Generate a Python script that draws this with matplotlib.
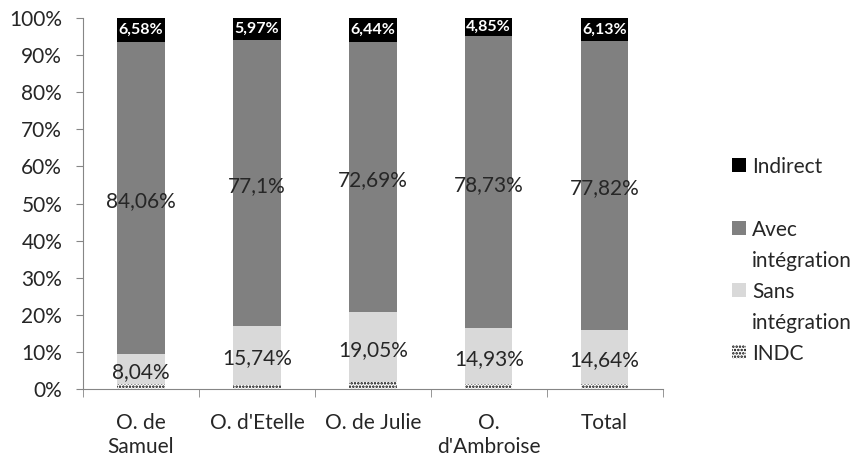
import numpy as np
import matplotlib
matplotlib.use('Agg')
import matplotlib.pyplot as plt
from matplotlib.patches import Rectangle
from matplotlib.ticker import FixedLocator, PercentFormatter

plt.rcParams['font.family'] = ['Lato', 'DejaVu Sans']
plt.rcParams['hatch.linewidth'] = 1.2

# données
categories = ['O. de\nSamuel', "O. d'Etelle", 'O. de Julie', "O.\nd'Ambroise", 'Total']
indc = np.array([1.32, 1.19, 1.82, 1.49, 1.41])
sans = np.array([8.04, 15.74, 19.05, 14.93, 14.64])
avec = np.array([84.06, 77.10, 72.69, 78.73, 77.82])
indirect = np.array([6.58, 5.97, 6.44, 4.85, 6.13])
sans_lbl = ['8,04%', '15,74%', '19,05%', '14,93%', '14,64%']
avec_lbl = ['84,06%', '77,1%', '72,69%', '78,73%', '77,82%']
ind_lbl = ['6,58%', '5,97%', '6,44%', '4,85%', '6,13%']

x = np.arange(len(categories))
w = 0.41
txt = '#262626'
axcol = '#868686'
W, H = 865, 461

fig = plt.figure(figsize=(8.65, 4.61), dpi=100)
ax = fig.add_axes([0.096, 0.156, 0.67, 0.805])

ax.bar(x, indc, w, color='white', edgecolor='black', linewidth=0, hatch='.....')
ax.bar(x, sans, w, bottom=indc, color='#d9d9d9')
ax.bar(x, avec, w, bottom=indc + sans, color='#808080')
ax.bar(x, indirect, w, bottom=indc + sans + avec, color='black')

for i in x:
    ax.text(x[i], indc[i] + sans[i] / 2 - 0.8, sans_lbl[i], ha='center', va='center', fontsize=15, color=txt)
    ax.text(x[i], indc[i] + sans[i] + avec[i] / 2 - 0.8, avec_lbl[i], ha='center', va='center', fontsize=15, color=txt)
    ax.text(x[i], indc[i] + sans[i] + avec[i] + indirect[i] / 2, ind_lbl[i], ha='center', va='center',
            fontsize=11.5, color='white', fontweight='bold')

ax.set_xlim(-0.5, len(categories) - 0.5)
ax.set_ylim(0, 100)
ax.set_yticks(np.arange(0, 101, 10))
ax.yaxis.set_major_formatter(PercentFormatter(decimals=0))
ax.set_xticks(x)
ax.set_xticklabels(categories, linespacing=1.3)
ax.xaxis.set_minor_locator(FixedLocator(np.arange(-0.5, len(categories), 1)))
ax.tick_params(axis='x', which='major', length=0, labelsize=15, labelcolor=txt, pad=17)
ax.tick_params(axis='x', which='minor', length=6, color=axcol, direction='out')
ax.tick_params(axis='y', length=5, color=axcol, labelsize=15, labelcolor=txt, pad=10)

for s in ['top', 'right']:
    ax.spines[s].set_visible(False)
for s in ['left', 'bottom']:
    ax.spines[s].set_color(axcol)

# légende (carré aligné sur la première ligne, comme Excel)
leg_items = [('Indirect', 'black', None, 165),
             ('Avec\nintégration', '#808080', None, 228),
             ('Sans\nintégration', '#d9d9d9', None, 290),
             ('INDC', 'white', '.....', 352)]
for label, col, hatch, ypx in leg_items:
    fig.patches.append(Rectangle((732 / W, 1 - (ypx + 7) / H), 14 / W, 14 / H,
                                 transform=fig.transFigure, facecolor=col,
                                 edgecolor='black', linewidth=0, hatch=hatch))
    fig.text(752 / W, 1 - (ypx - 8) / H, label, ha='left', va='top',
             fontsize=15, color=txt, linespacing=1.7)

plt.savefig('out.png', dpi=100)
